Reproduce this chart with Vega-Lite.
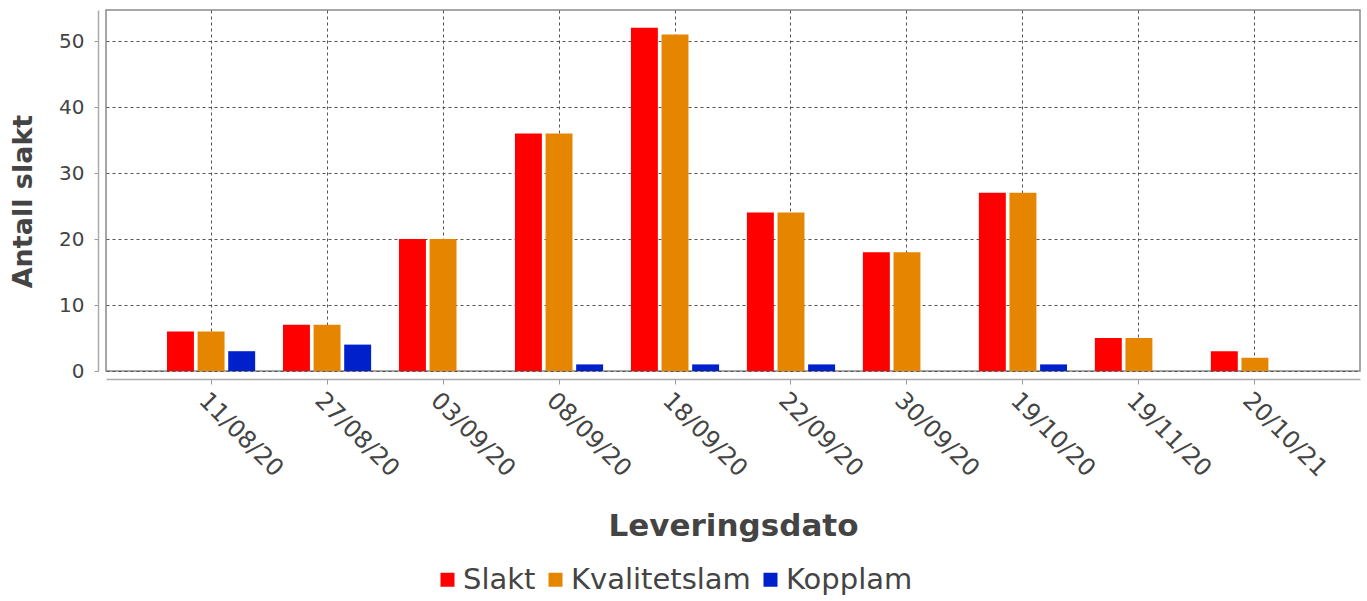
{
  "$schema": "https://vega.github.io/schema/vega-lite/v6.json",
  "width": 1254,
  "height": 361,
  "autosize": {"type": "none"},
  "padding": {"left": 106, "top": 10, "right": 7, "bottom": 230},
  "background": "white",
  "config": {
    "font": "DejaVu Sans",
    "view": {"stroke": "#8a8a8a", "strokeWidth": 1.5}
  },
  "data": {
    "values": [
      {"dato": "11/08/20", "serie": "Slakt", "antall": 6},
      {"dato": "11/08/20", "serie": "Kvalitetslam", "antall": 6},
      {"dato": "11/08/20", "serie": "Kopplam", "antall": 3},
      {"dato": "27/08/20", "serie": "Slakt", "antall": 7},
      {"dato": "27/08/20", "serie": "Kvalitetslam", "antall": 7},
      {"dato": "27/08/20", "serie": "Kopplam", "antall": 4},
      {"dato": "03/09/20", "serie": "Slakt", "antall": 20},
      {"dato": "03/09/20", "serie": "Kvalitetslam", "antall": 20},
      {"dato": "03/09/20", "serie": "Kopplam", "antall": 0},
      {"dato": "08/09/20", "serie": "Slakt", "antall": 36},
      {"dato": "08/09/20", "serie": "Kvalitetslam", "antall": 36},
      {"dato": "08/09/20", "serie": "Kopplam", "antall": 1},
      {"dato": "18/09/20", "serie": "Slakt", "antall": 52},
      {"dato": "18/09/20", "serie": "Kvalitetslam", "antall": 51},
      {"dato": "18/09/20", "serie": "Kopplam", "antall": 1},
      {"dato": "22/09/20", "serie": "Slakt", "antall": 24},
      {"dato": "22/09/20", "serie": "Kvalitetslam", "antall": 24},
      {"dato": "22/09/20", "serie": "Kopplam", "antall": 1},
      {"dato": "30/09/20", "serie": "Slakt", "antall": 18},
      {"dato": "30/09/20", "serie": "Kvalitetslam", "antall": 18},
      {"dato": "30/09/20", "serie": "Kopplam", "antall": 0},
      {"dato": "19/10/20", "serie": "Slakt", "antall": 27},
      {"dato": "19/10/20", "serie": "Kvalitetslam", "antall": 27},
      {"dato": "19/10/20", "serie": "Kopplam", "antall": 1},
      {"dato": "19/11/20", "serie": "Slakt", "antall": 5},
      {"dato": "19/11/20", "serie": "Kvalitetslam", "antall": 5},
      {"dato": "19/11/20", "serie": "Kopplam", "antall": 0},
      {"dato": "20/10/21", "serie": "Slakt", "antall": 3},
      {"dato": "20/10/21", "serie": "Kvalitetslam", "antall": 2},
      {"dato": "20/10/21", "serie": "Kopplam", "antall": 0}
    ]
  },
  "mark": {"type": "bar"},
  "encoding": {
    "x": {
      "field": "dato",
      "type": "nominal",
      "sort": null,
      "scale": {"paddingInner": 0.24, "paddingOuter": 0.526},
      "axis": {
        "title": "Leveringsdato",
        "titleFontSize": 31,
        "titleFontWeight": "bold",
        "titleColor": "#444444",
        "titlePadding": 30,
        "labelFontSize": 24,
        "labelColor": "#444444",
        "labelAngle": 45,
        "labelAlign": "left",
        "labelBaseline": "top",
        "labelPadding": 4,
        "offset": 8,
        "domainColor": "#aaaaaa",
        "domainWidth": 1.5,
        "tickColor": "#999999",
        "tickSize": 5,
        "tickBand": "center",
        "bandPosition": 0.5,
        "grid": true,
        "gridColor": "#555555",
        "gridDash": [3, 3],
        "gridWidth": 1
      }
    },
    "xOffset": {
      "field": "serie",
      "type": "nominal",
      "sort": ["Slakt", "Kvalitetslam", "Kopplam"],
      "scale": {"paddingInner": 0.12, "paddingOuter": 0}
    },
    "y": {
      "field": "antall",
      "type": "quantitative",
      "scale": {"domain": [0, 54.7], "nice": false},
      "axis": {
        "title": "Antall slakt",
        "titleFontSize": 27,
        "titleFontWeight": "bold",
        "titleColor": "#444444",
        "titlePadding": 21,
        "titleY": 191,
        "values": [0, 10, 20, 30, 40, 50],
        "labelFontSize": 20,
        "labelColor": "#444444",
        "labelPadding": 10,
        "offset": 8,
        "domainColor": "#aaaaaa",
        "domainWidth": 1.5,
        "tickColor": "#999999",
        "tickSize": 4,
        "grid": true,
        "gridColor": "#555555",
        "gridDash": [3, 3],
        "gridWidth": 1
      }
    },
    "color": {
      "field": "serie",
      "type": "nominal",
      "scale": {
        "domain": ["Slakt", "Kvalitetslam", "Kopplam"],
        "range": ["#ff0000", "#e68600", "#0020cc"]
      },
      "legend": {
        "title": null,
        "orient": "none",
        "legendX": 327,
        "legendY": 555,
        "direction": "horizontal",
        "symbolType": "square",
        "symbolSize": 196,
        "symbolStrokeWidth": 0,
        "labelFontSize": 29,
        "labelColor": "#444444",
        "labelOffset": 1,
        "labelLimit": 400,
        "columnPadding": 5
      }
    }
  }
}
